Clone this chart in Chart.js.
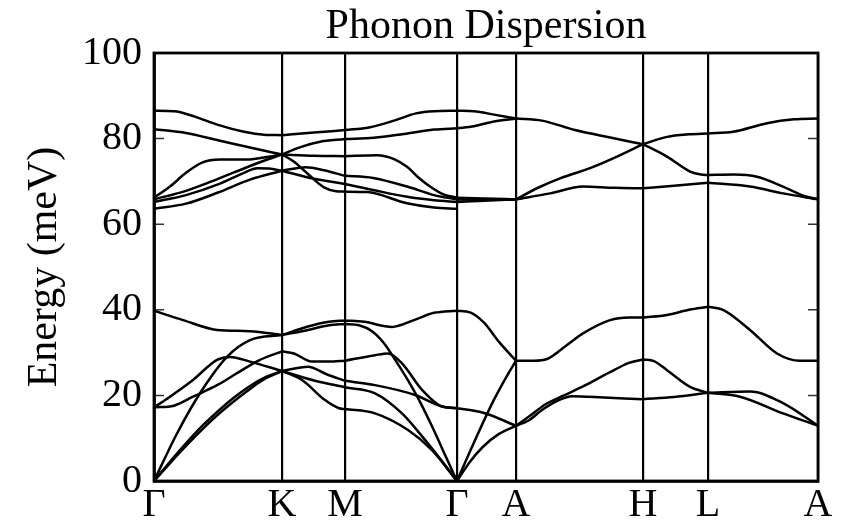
<!DOCTYPE html>
<html>
<head>
<meta charset="utf-8">
<script src="https://cdn.jsdelivr.net/npm/chart.js@4.4.1/dist/chart.umd.min.js"></script>
<style>
  html, body { margin: 0; padding: 0; background: #fff; }
  #c { display: block; }
</style>
</head>
<body>
<canvas id="c" width="858" height="522"></canvas>
<script>
// High-symmetry path positions and labels
const kPos = [0, 128, 191, 303, 362, 489, 554, 664];
const kLabels = ['Γ', 'K', 'M', 'Γ', 'A', 'H', 'L', 'A'];
const yTicks = [0, 20, 40, 60, 80, 100];

// Branches per path segment: [path coordinate, energy (meV)]
const segGK = [
  [[0,86.5],[20,86.4],[40,85.2],[64,83.2],[90,81.6],[110,80.9],[128,80.8]],
  [[0,82.2],[32,81.3],[64,79.6],[96,77.9],[128,76.3]],
  [[0,66.2],[16,68.8],[32,72.0],[48,74.4],[66,75.1],[93,75.1],[110,75.6],[128,76.3]],
  [[0,65.8],[32,67.8],[64,70.6],[96,73.6],[112,75.0],[128,76.3]],
  [[0,65.2],[32,66.8],[64,69.3],[90,72.0],[103,73.1],[115,73.0],[128,72.5]],
  [[0,63.6],[32,64.8],[64,67.4],[96,70.4],[128,72.5]],
  [[0,39.8],[29,37.6],[63,35.3],[96,35.0],[128,34.1]],
  [[0,17.2],[16,19.7],[39,23.6],[63,28.3],[76,29.0],[96,27.9],[128,25.7]],
  [[0,17.2],[20,17.6],[39,19.7],[64,22.5],[83,25.2],[105,28.2],[128,30.3]],
  [[0,0],[23,11.1],[46,20.5],[73,29.0],[96,32.9],[128,34.1]],
  [[0,0],[16,4.5],[32,8.8],[48,12.8],[64,16.3],[80,19.5],[96,22.2],[112,24.3],[128,25.7]],
  [[0,0],[32,8.2],[64,15.5],[96,21.5],[112,24.0],[128,25.7]]
];
const segKM = [
  [[128,80.8],[160,81.4],[191,82.0]],
  [[128,76.3],[145,77.9],[165,79.2],[191,79.9]],
  [[128,76.3],[160,76.0],[191,75.9]],
  [[128,76.3],[140,74.6],[155,71.5],[170,68.6],[182,67.7],[191,67.6]],
  [[128,72.5],[152,73.3],[170,72.6],[191,71.3]],
  [[128,72.5],[160,70.6],[191,69.4]],
  [[128,34.1],[154,36.1],[175,37.2],[191,37.5]],
  [[128,34.1],[154,35.3],[175,36.4],[191,36.7]],
  [[128,30.3],[140,29.8],[158,27.9],[175,27.9],[191,28.1]],
  [[128,25.7],[154,26.7],[172,25.0],[191,23.4]],
  [[128,25.7],[160,23.5],[191,21.9]],
  [[128,25.7],[148,23.6],[171,18.9],[185,17.0],[191,16.8]]
];
const segMG = [
  [[191,82.0],[215,82.6],[240,84.2],[262,85.9],[280,86.4],[303,86.5]],
  [[191,79.9],[220,80.2],[250,81.1],[280,82.1],[303,82.4]],
  [[191,75.9],[223,76.1],[240,75.2],[253,73.4],[265,70.8],[276,68.8],[290,66.9],[303,66.2]],
  [[191,71.3],[219,70.8],[253,68.8],[280,66.8],[303,65.8]],
  [[191,69.4],[219,68.0],[253,66.4],[280,65.6],[303,65.2]],
  [[191,67.6],[213,67.5],[253,64.9],[280,63.9],[303,63.6]],
  [[191,37.5],[210,37.2],[238,36.0],[260,37.6],[280,39.3],[303,39.8]],
  [[191,36.7],[205,36.4],[218,35.0],[230,32.2],[242,28.0],[254,23.5],[266,18.5],[280,11.8],[292,5.6],[303,0]],
  [[191,28.1],[221,29.4],[234,29.8],[248,27.5],[268,21.3],[288,17.4],[303,17.0]],
  [[191,23.4],[221,22.4],[261,20.1],[288,17.4],[303,17.0]],
  [[191,21.9],[221,20.5],[248,15.8],[271,9.6],[290,4.0],[303,0]],
  [[191,16.8],[221,15.8],[254,11.9],[278,7.2],[303,0]]
];
const segGA = [
  [[303,86.5],[320,86.4],[340,85.6],[362,84.7]],
  [[303,82.4],[320,82.9],[340,84.0],[362,84.7]],
  [[303,66.2],[330,66.0],[362,65.8]],
  [[303,65.8],[330,65.8],[362,65.8]],
  [[303,65.2],[330,65.5],[362,65.8]],
  [[303,39.8],[316,39.4],[330,37.0],[345,32.5],[362,28.1]],
  [[303,0],[320,9.0],[340,19.0],[355,25.4],[362,28.1]],
  [[303,17.0],[330,15.9],[362,12.9]],
  [[303,0],[316,4.5],[329,8.0],[345,11.0],[362,12.9]]
];
const segAH = [
  [[362,84.7],[388,84.2],[421,82.0],[455,80.3],[489,78.7]],
  [[362,65.8],[383,68.4],[406,70.7],[436,73.1],[463,75.8],[489,78.7]],
  [[362,65.8],[396,67.2],[429,68.8],[460,68.5],[489,68.4]],
  [[362,28.1],[380,28.1],[393,28.5],[413,31.8],[429,34.5],[456,37.6],[475,38.2],[489,38.2]],
  [[362,12.9],[378,15.6],[392,18.0],[410,20.0],[430,22.2],[455,25.3],[475,27.6],[489,28.4]],
  [[362,12.9],[375,14.2],[388,16.6],[405,18.9],[418,19.8],[450,19.5],[489,19.1]]
];
const segHL = [
  [[489,78.7],[513,80.4],[535,81.0],[554,81.2]],
  [[489,78.7],[513,75.8],[536,72.3],[547,71.6],[554,71.5]],
  [[489,68.4],[520,69.0],[554,69.7]],
  [[489,38.2],[513,38.8],[535,40.0],[554,40.7]],
  [[489,28.4],[500,28.0],[513,25.9],[536,22.0],[554,20.6]],
  [[489,19.1],[520,19.6],[554,20.6]]
];
const segLA = [
  [[554,81.2],[579,81.6],[613,83.6],[640,84.5],[664,84.7]],
  [[554,71.5],[580,71.6],[603,71.1],[629,68.8],[650,66.6],[664,65.8]],
  [[554,69.7],[596,68.8],[629,67.2],[664,65.8]],
  [[554,40.7],[569,40.0],[596,35.3],[623,29.8],[646,28.1],[664,28.1]],
  [[554,20.6],[596,20.9],[629,18.2],[664,12.9]],
  [[554,20.6],[586,19.7],[629,15.8],[664,12.9]]
];

const allCurves = [].concat(segGK, segKM, segMG, segGA, segAH, segHL, segLA);
const datasets = allCurves.map(c => ({
  data: c.map(([q, e]) => ({ x: q, y: e })),
  borderColor: '#000',
  borderWidth: 2.5,
  pointRadius: 0,
  pointHoverRadius: 0,
  fill: false,
  cubicInterpolationMode: 'monotone'
}));

const SERIF = "'Liberation Serif', 'Times New Roman', Times, serif";
Chart.defaults.font.family = SERIF;
Chart.defaults.color = '#000';

const framePlugin = {
  id: 'frame',
  afterDatasetsDraw(chart) {
    const { ctx, chartArea: a, scales } = chart;
    ctx.save();
    // inward y ticks on both sides
    ctx.strokeStyle = '#333';
    ctx.lineWidth = 1.5;
    scales.y.ticks.forEach(t => {
      const py = scales.y.getPixelForValue(t.value);
      ctx.beginPath();
      ctx.moveTo(a.left, py); ctx.lineTo(a.left + 10, py);
      ctx.moveTo(a.right, py); ctx.lineTo(a.right - 10, py);
      ctx.stroke();
    });
    ctx.strokeStyle = '#000';
    ctx.lineWidth = 2.8;
    ctx.strokeRect(a.left, a.top, a.right - a.left, a.bottom - a.top);
    ctx.restore();
  }
};

new Chart(document.getElementById('c'), {
  type: 'line',
  data: { datasets },
  plugins: [framePlugin],
  options: {
    responsive: false,
    animation: false,
    devicePixelRatio: 1,
    layout: { padding: { left: 0, right: 40, top: 0, bottom: 0 } },
    plugins: {
      legend: { display: false },
      tooltip: { enabled: false },
      title: {
        display: true,
        text: 'Phonon Dispersion',
        fullSize: false,
        color: '#000',
        font: { family: SERIF, size: 42, weight: 'normal' },
        padding: { top: 2, bottom: 0.6 }
      }
    },
    scales: {
      x: {
        type: 'linear',
        min: kPos[0],
        max: kPos[kPos.length - 1],
        afterBuildTicks: s => { s.ticks = kPos.map(v => ({ value: v })); },
        afterFit: s => { s.height = 41; },
        grid: { color: '#000', lineWidth: 2.2, drawTicks: false },
        border: { display: true, color: '#000', width: 2.8 },
        ticks: {
          autoSkip: false,
          maxRotation: 0,
          padding: 0,
          color: '#000',
          font: { family: SERIF, size: 40 },
          callback: (v, i) => kLabels[i]
        }
      },
      y: {
        min: 0,
        max: 100,
        afterBuildTicks: s => { s.ticks = yTicks.map(v => ({ value: v })); },
        afterFit: s => { s.width = 154; },
        grid: { drawOnChartArea: false, drawTicks: false },
        border: { display: true, color: '#000', width: 2.8 },
        ticks: {
          padding: 12,
          color: '#000',
          font: { family: SERIF, size: 40 }
        },
        title: {
          display: true,
          text: 'Energy (meV)',
          color: '#000',
          font: { family: SERIF, size: 42 },
          padding: { top: 20, bottom: 0 }
        }
      }
    }
  }
});
</script>
</body>
</html>
